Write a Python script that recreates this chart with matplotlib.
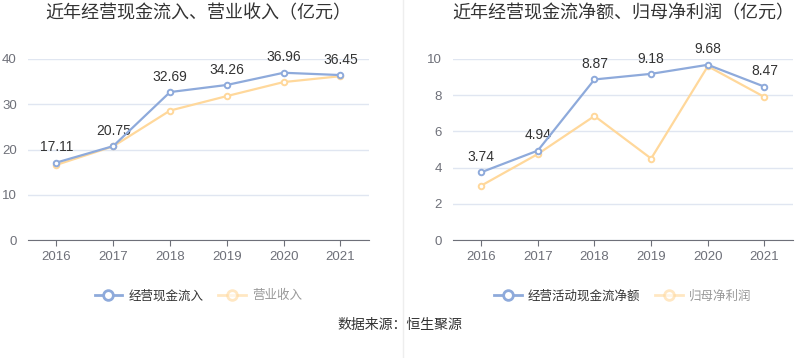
import matplotlib
matplotlib.use("Agg")
import matplotlib.pyplot as plt
from matplotlib.lines import Line2D

plt.rcParams['font.family'] = ['Noto Sans CJK SC', 'DejaVu Sans']
num_font = ['Liberation Sans', 'DejaVu Sans']

years = ["2016", "2017", "2018", "2019", "2020", "2021"]
cash_in = [17.11, 20.75, 32.69, 34.26, 36.96, 36.45]
revenue = [16.6, 20.7, 28.6, 31.8, 34.9, 36.2]
net_cash = [3.74, 4.94, 8.87, 9.18, 9.68, 8.47]
net_profit = [3.0, 4.75, 6.85, 4.5, 9.6, 7.9]

blue = "#8eaadb"
orange = "#ffd89b"
grid_c = "#e0e6f1"
axis_c = "#6e7079"

fig = plt.figure(figsize=(8, 3.58), dpi=100)


def draw(ax, s1, s2, ymax, step, title, names):
    x = range(len(years))
    ax.plot(x, s2, color=orange, lw=1.6, marker="o", ms=4, mfc="white",
            mec=orange, mew=1.4, zorder=3)
    ax.plot(x, s1, color=blue, lw=1.6, marker="o", ms=4, mfc="white",
            mec=blue, mew=1.4, zorder=4)
    for i, v in enumerate(s1):
        ax.annotate(f"{v:.2f}", (i, v), xytext=(0, 6), textcoords="offset points",
                    ha="center", va="bottom", fontsize=10, color="#333333",
                    family=num_font)
    ax.set_xlim(-0.5, len(years) - 0.5)
    ax.set_ylim(0, ymax)
    ax.set_yticks(range(0, ymax + 1, step))
    ax.set_xticks(list(x))
    ax.set_xticklabels(years)
    for lab in ax.get_xticklabels() + ax.get_yticklabels():
        lab.set_family(num_font)
    ax.grid(axis="y", color=grid_c, lw=1)
    ax.set_axisbelow(True)
    for s in ["top", "right", "left"]:
        ax.spines[s].set_visible(False)
    ax.spines["bottom"].set_color(axis_c)
    ax.tick_params(axis="y", length=0, pad=8, labelsize=9.5, labelcolor=axis_c)
    ax.tick_params(axis="x", length=4, color=axis_c, pad=4, labelsize=9.5, labelcolor=axis_c)
    ax.set_title(title, fontsize=13, color="#333333", pad=29)
    h1 = Line2D([], [], color=blue, lw=2, marker="o", ms=7, mfc="white", mec=blue, mew=2)
    h2 = Line2D([], [], color=orange, lw=2, marker="o", ms=7, mfc="white", mec=orange, mew=2, alpha=0.6)
    leg = ax.legend([h1, h2], names, loc="upper center", bbox_to_anchor=(0.5, -0.21),
                    ncol=2, frameon=False, fontsize=9, handlelength=2.2,
                    columnspacing=1.2, handletextpad=0.5)
    leg.get_texts()[0].set_color("#333333")
    leg.get_texts()[1].set_color("#999999")


ax1 = fig.add_axes([0.035, 0.3296, 0.426, 0.5056])
draw(ax1, cash_in, revenue, 40, 10, "近年经营现金流入、营业收入（亿元）", ["经营现金流入", "营业收入"])

ax2 = fig.add_axes([0.566, 0.3296, 0.425, 0.5056])
draw(ax2, net_cash, net_profit, 10, 2, "近年经营现金流净额、归母净利润（亿元）", ["经营活动现金流净额", "归母净利润"])

fig.add_artist(Line2D([0.504, 0.504], [0.0, 1.0], color="#eeeeee", lw=1))
fig.text(0.5, 0.092, "数据来源：恒生聚源", ha="center", va="center", fontsize=10, color="#333333")

fig.savefig("out.png", dpi=100)
